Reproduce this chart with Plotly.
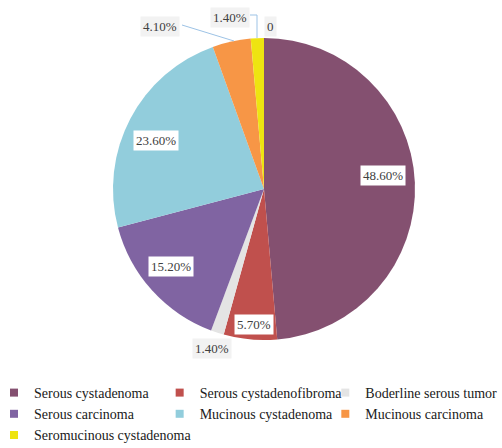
import plotly.graph_objects as go

categories = ["Serous cystadenoma", "Serous cystadenofibroma", "Boderline serous tumor",
              "Serous carcinoma", "Mucinous cystadenoma", "Mucinous carcinoma",
              "Seromucinous cystadenoma"]
values = [48.6, 5.7, 1.4, 15.2, 23.6, 4.1, 1.4]
extra_label = "0"

colors = ["#845070", "#C0504D", "#E4E4E4", "#8064A2", "#92CDDC", "#F79646", "#EEE411"]

W, H = 502, 448
cx, cy, R = 264, 189, 151
SERIF = "Times New Roman, Liberation Serif, serif"

def px(x):
    return x / W

def py(y):
    return 1 - y / H

fig = go.Figure()
fig.add_trace(go.Pie(
    labels=categories, values=values, sort=False, direction="clockwise", rotation=0,
    marker=dict(colors=colors, line=dict(width=0)),
    textinfo="none", hoverinfo="label+value", showlegend=False,
    domain=dict(x=[px(cx - R), px(cx + R)], y=[py(cy + R), py(cy - R)]),
))

# legend entries
for name, c in zip(categories, colors):
    fig.add_trace(go.Scatter(x=[None], y=[None], mode="markers", name=name,
                             marker=dict(symbol="square", size=8, color=c)))

# label boxes (positions are layout)
label_pos = [(383, 176, "#FFFFFF"), (254, 324, "#FFFFFF"), (212, 348, "#F2F2F2"),
             (171, 266, "#FFFFFF"), (156, 140, "#FFFFFF"), (160, 27, "#F2F2F2"),
             (230, 17, "#F2F2F2")]
font = dict(family=SERIF, size=13, color="#404040")
for v, (x, y, bg) in zip(values, label_pos):
    fig.add_annotation(x=px(x), y=py(y), xref="paper", yref="paper", text=f"{v:.2f}%",
                       xanchor="center", yanchor="middle",
                       showarrow=False, bgcolor=bg, font=font, borderpad=2)
fig.add_annotation(x=px(270), y=py(26), xref="paper", yref="paper", text=extra_label,
                   xanchor="center", yanchor="middle",
                   showarrow=False, bgcolor="#F2F2F2", font=font, borderpad=2)

line_col = "#9DC3E6"
fig.add_shape(type="line", xref="paper", yref="paper", x0=px(182), y0=py(25), x1=px(234), y1=py(41),
              line=dict(color=line_col, width=1))
fig.add_shape(type="path", xref="paper", yref="paper",
              path=f"M {px(250)},{py(15)} L {px(257)},{py(15)} L {px(257)},{py(38)}",
              line=dict(color=line_col, width=1))

fig.update_layout(
    width=W, height=H, margin=dict(l=0, r=0, t=0, b=0, autoexpand=False),
    paper_bgcolor="white", plot_bgcolor="white",
    xaxis=dict(visible=False), yaxis=dict(visible=False),
    showlegend=True,
    legend=dict(orientation="h", x=0.0, y=py(377), xanchor="left", yanchor="top",
                entrywidth=0.33, entrywidthmode="fraction", itemwidth=30, indentation=-6,
                font=dict(family=SERIF, size=14, color="#202020"),
                traceorder="normal"),
)
fig.write_html("out.html", config={"displayModeBar": False},
               post_script="document.body.style.margin='0';document.body.style.overflow='hidden';")
